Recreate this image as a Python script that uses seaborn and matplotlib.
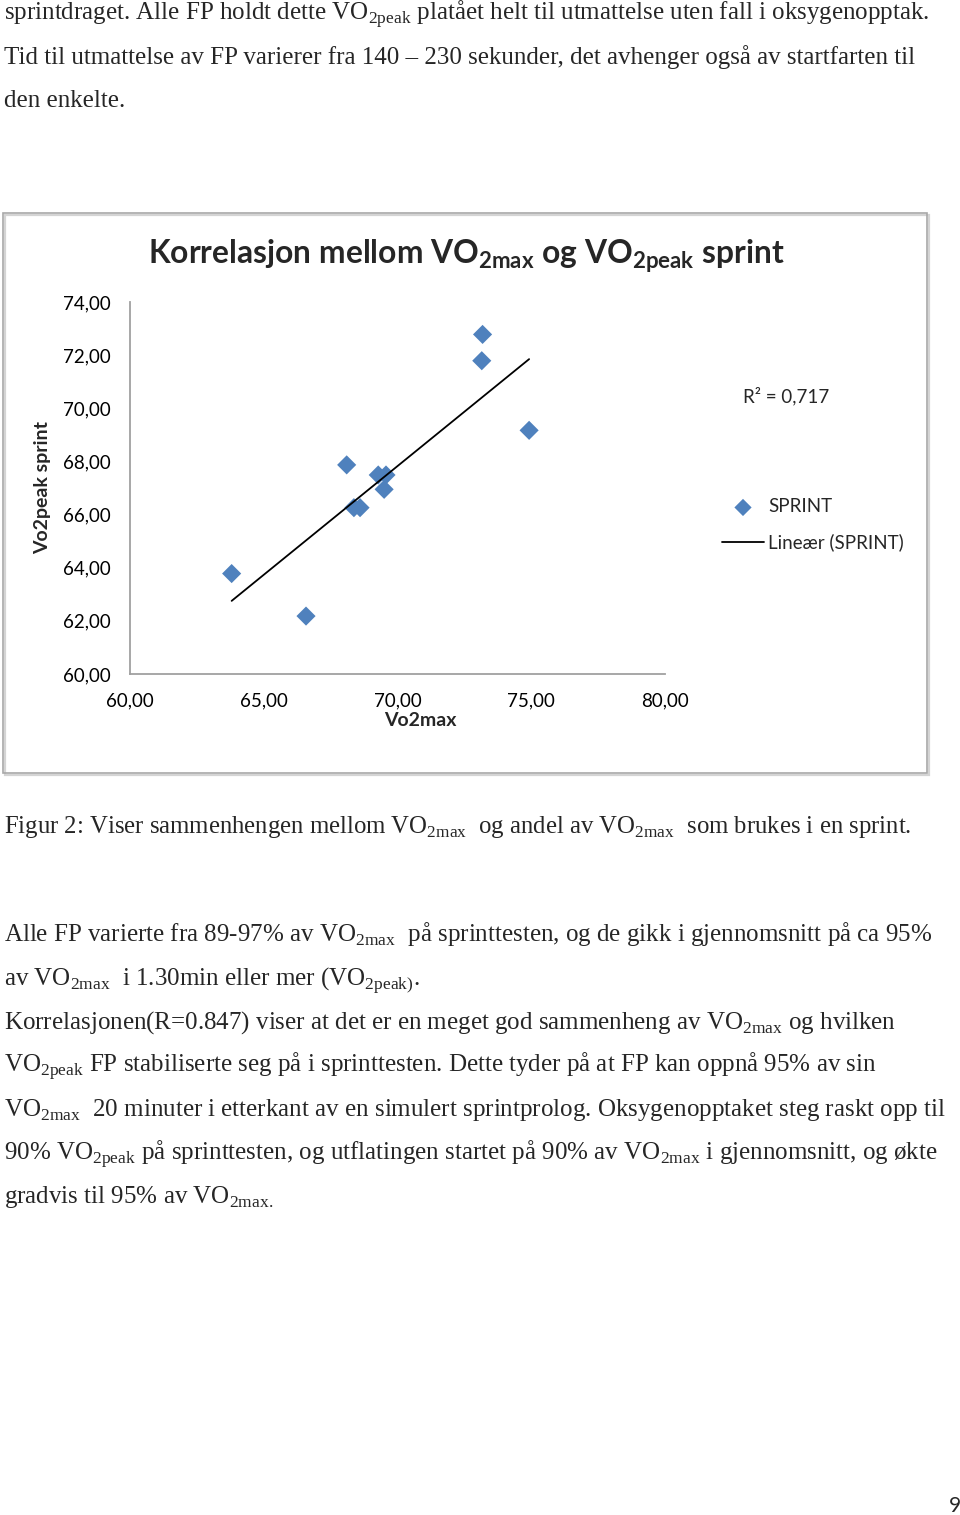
import matplotlib
matplotlib.use("Agg")
import matplotlib.pyplot as plt
import seaborn as sns
import pandas as pd
from matplotlib.patches import Rectangle
from matplotlib.ticker import FuncFormatter

# data
vo2max = [73.18, 73.15, 74.92, 68.10, 69.28, 69.57, 69.50, 68.37, 68.60, 63.80, 66.58]
vo2peak = [72.78, 71.79, 69.17, 67.87, 67.49, 67.49, 66.95, 66.26, 66.26, 63.78, 62.18]
x_ticks = [60, 65, 70, 75, 80]
y_ticks = [60, 62, 64, 66, 68, 70, 72, 74]
r2_text = "R² = 0,717"

top_lines = [
    r"sprintdraget. Alle FP holdt dette VO$_{\mathrm{2peak}}$ platået helt til utmattelse uten fall i oksygenopptak.",
    "Tid til utmattelse av FP varierer fra 140 – 230 sekunder, det avhenger også av startfarten til",
    "den enkelte.",
]
caption = r"Figur 2: Viser sammenhengen mellom VO$_{\mathrm{2max}}$  og andel av VO$_{\mathrm{2max}}$  som brukes i en sprint."
body_lines = [
    r"Alle FP varierte fra 89-97% av VO$_{\mathrm{2max}}$  på sprinttesten, og de gikk i gjennomsnitt på ca 95%",
    r"av VO$_{\mathrm{2max}}$  i 1.30min eller mer (VO$_{\mathrm{2peak)}}$.",
    r"Korrelasjonen(R=0.847) viser at det er en meget god sammenheng av VO$_{\mathrm{2max}}$ og hvilken",
    r"VO$_{\mathrm{2peak}}$ FP stabiliserte seg på i sprinttesten. Dette tyder på at FP kan oppnå 95% av sin",
    r"VO$_{\mathrm{2max}}$  20 minuter i etterkant av en simulert sprintprolog. Oksygenopptaket steg raskt opp til",
    r"90% VO$_{\mathrm{2peak}}$ på sprinttesten, og utflatingen startet på 90% av VO$_{\mathrm{2max}}$ i gjennomsnitt, og økte",
    r"gradvis til 95% av VO$_{\mathrm{2max.}}$",
]

df = pd.DataFrame({"Vo2max": vo2max, "Vo2peak sprint": vo2peak})

sns.set_theme(style="white")
plt.rcParams["font.family"] = ["Liberation Serif", "DejaVu Serif"]
plt.rcParams["mathtext.fontset"] = "custom"
plt.rcParams["mathtext.rm"] = "Liberation Serif"
plt.rcParams["mathtext.sf"] = "Lato:bold"

W, H = 960, 1515
fig = plt.figure(figsize=(W / 100, H / 100), dpi=100)
fig.patch.set_facecolor("white")


def fx(x):
    return x / W


def fy(y):
    return 1 - y / H


# page text
body_size = 18
for i, line in enumerate(top_lines):
    fig.text(fx(4), fy(20 + i * 43.6), line, fontsize=body_size, va="baseline", ha="left")
fig.text(fx(4), fy(833), caption, fontsize=17.8, va="baseline", ha="left")
for i, line in enumerate(body_lines):
    fig.text(fx(4), fy(941.5 + i * 43.6), line, fontsize=body_size, va="baseline", ha="left")
fig.text(fx(955), fy(1512), "9", fontsize=15, family="Lato", ha="center", va="baseline")

# chart frame
fig.add_artist(Rectangle((fx(5), fy(774.5)), fx(924), (772 - 212) / H, transform=fig.transFigure,
                         fill=False, edgecolor="#d4d4d4", lw=1.6))
fig.add_artist(Rectangle((fx(3), fy(772.5)), fx(924), (772 - 212) / H, transform=fig.transFigure,
                         fill=False, edgecolor="#a8a8a8", lw=1.2))

ax = fig.add_axes([fx(130), fy(674), fx(665 - 130), (674 - 302) / H])
sns.regplot(data=df, x="Vo2max", y="Vo2peak sprint", ax=ax, ci=None, truncate=True,
            marker="D",
            scatter_kws={"s": 95, "color": "#4f81bd", "edgecolors": "none", "alpha": 1},
            line_kws={"color": "black", "lw": 1.3})

ax.set_xlim(60, 80)
ax.set_ylim(60, 74)
ax.set_xticks(x_ticks)
ax.set_yticks(y_ticks)
fmt = FuncFormatter(lambda v, p: f"{v:.2f}".replace(".", ","))
ax.xaxis.set_major_formatter(fmt)
ax.yaxis.set_major_formatter(fmt)
ax.tick_params(axis="both", length=0, labelsize=13.5, colors="black")
ax.tick_params(axis="y", pad=14)
ax.tick_params(axis="x", pad=13)
for lab in ax.get_xticklabels() + ax.get_yticklabels():
    lab.set_family("Lato")
for s in ["top", "right"]:
    ax.spines[s].set_visible(False)
for s in ["left", "bottom"]:
    ax.spines[s].set_color("#a0a0a0")
    ax.spines[s].set_linewidth(1.3)
ax.grid(False)

ax.set_xlabel("Vo2max", family="Lato", fontweight="bold", fontsize=14, va="center")
ax.xaxis.set_label_coords((420 - 130) / 535, -(721 - 674) / 372)
ax.set_ylabel("Vo2peak sprint", family="Lato", fontweight="bold", fontsize=14, va="center")
ax.yaxis.set_label_coords((43 - 130) / 535, 0.5)

fig.text(fx(466), fy(264), r"Korrelasjon mellom VO$_{\mathsf{2max}}$ og VO$_{\mathsf{2peak}}$ sprint",
         family="Lato", fontweight="bold", fontsize=22.9, ha="center", va="baseline")
fig.text(fx(743), fy(396), r2_text, family="Lato", fontsize=13.5, ha="left", va="center")

handles = [ax.collections[0], ax.lines[0]]
leg = ax.legend(handles, ["SPRINT", "Lineær (SPRINT)"], loc="upper left",
                bbox_to_anchor=(fx(713), fy(489)), bbox_transform=fig.transFigure,
                frameon=False, prop={"family": "Lato", "size": 13.5}, handlelength=2.2,
                handletextpad=0.25, labelspacing=0.95, borderpad=0, markerscale=0.9)

fig.savefig("out.png", dpi=100)
